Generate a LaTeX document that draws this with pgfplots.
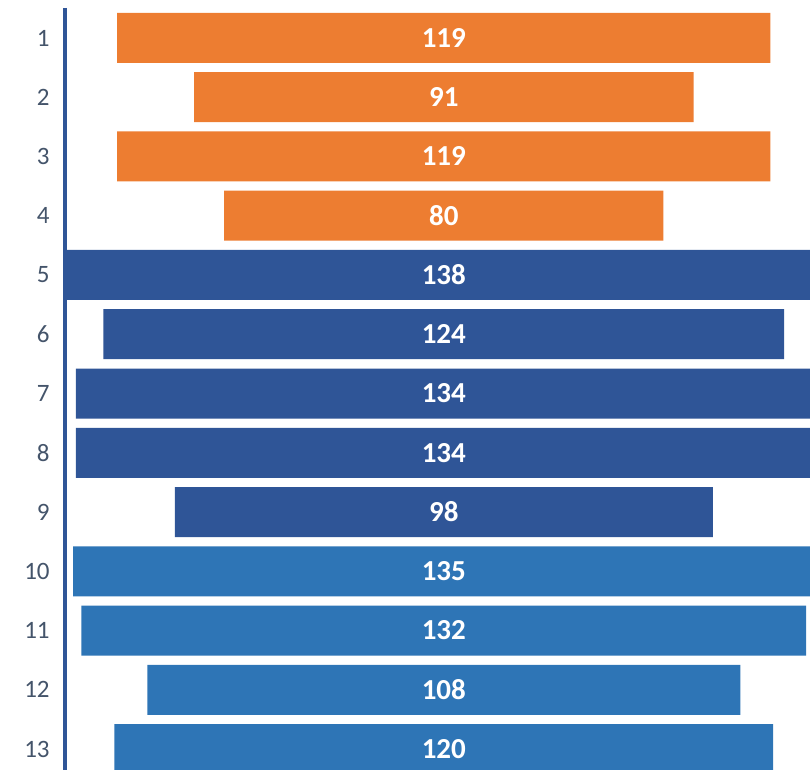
\documentclass[border=0pt]{standalone}
\usepackage{pgfplots}
\pgfplotsset{compat=1.18}
\usepackage{pgfplotstable}
\usepackage{fontspec}
\setmainfont{Carlito}
\definecolor{cOrange}{HTML}{ED7D31}
\definecolor{cDark}{HTML}{2F5597}
\definecolor{cMid}{HTML}{2E75B6}
\definecolor{cTick}{HTML}{44546A}
% row, offset A, value A, offset B, value B, offset C, value C
\pgfplotstableread{
row offA valA offB valB offC valC
1  9.5 119 0 0 0 0
2  23.5 91 0 0 0 0
3  9.5 119 0 0 0 0
4  29  80  0 0 0 0
5  0 0 0   138 0 0
6  0 0 7   124 0 0
7  0 0 2   134 0 0
8  0 0 2   134 0 0
9  0 0 20  98  0 0
10 0 0 0 0 1.5 135
11 0 0 0 0 3   132
12 0 0 0 0 15  108
13 0 0 0 0 9   120
}\funnel
\pgfplotstableread{
row center label
1  69 119
2  69 91
3  69 119
4  69 80
5  69 138
6  69 124
7  69 134
8  69 134
9  69 98
10 69 135
11 69 132
12 69 108
13 69 120
}\labels
\begin{document}
\begin{tikzpicture}
\useasboundingbox (-32.5pt,0pt) rectangle (372.5pt,385pt);
\clip (-32.5pt,0pt) rectangle (372.5pt,385pt);
\begin{axis}[
  at={(0pt,0pt)}, anchor=south west,
  scale only axis, width=372.5pt, height=381pt,
  xmin=0, xmax=135.7,
  ymin=0.494, ymax=13.354, y dir=reverse,
  xbar stacked, bar width=25pt,
  hide x axis,
  axis y line*=left,
  y axis line style={draw=cDark, line width=1.7pt, -},
  ytick={1,...,13},
  major tick length=0pt,
  yticklabel style={font=\fontsize{12.5}{14}\selectfont, text=cTick, inner sep=0pt, xshift=-7.5pt},
  /pgf/number format/assume math mode=true,
  clip=true,
]
\addplot[draw=none, fill=none] table[x=offA, y=row] {\funnel};
\addplot[draw=none, fill=cOrange] table[x=valA, y=row] {\funnel};
\addplot[draw=none, fill=none] table[x=offB, y=row] {\funnel};
\addplot[draw=none, fill=cDark] table[x=valB, y=row] {\funnel};
\addplot[draw=none, fill=none] table[x=offC, y=row] {\funnel};
\addplot[draw=none, fill=cMid] table[x=valC, y=row] {\funnel};
\end{axis}
\begin{axis}[
  at={(0pt,0pt)}, anchor=south west,
  scale only axis, width=372.5pt, height=381pt,
  xmin=0, xmax=135.7,
  ymin=0.494, ymax=13.354, y dir=reverse,
  hide axis,
]
\addplot[only marks, mark=none, point meta=explicit symbolic,
  nodes near coords,
  every node near coord/.style={anchor=center, text=white, font=\fontsize{14.5}{16}\selectfont\bfseries}]
  table[x=center, y=row, meta=label] {\labels};
\end{axis}
\end{tikzpicture}
\end{document}
